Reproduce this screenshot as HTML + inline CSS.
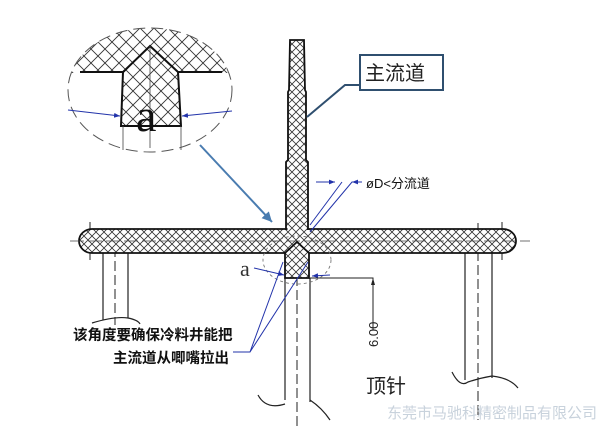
<!DOCTYPE html>
<html><head><meta charset="utf-8"><style>
body{margin:0;background:#fff;}
svg{display:block;}
text{font-family:"Liberation Sans","Noto Sans CJK SC",sans-serif;}
text.serif{font-family:"Liberation Serif",serif;}
</style></head><body>
<svg width="600" height="428" viewBox="0 0 600 428" xmlns="http://www.w3.org/2000/svg">
<defs>
<pattern id="h" width="8" height="8" patternUnits="userSpaceOnUse">
<rect width="8" height="8" fill="#fff"/>
<path d="M0 0L8 8M8 0L0 8" stroke="#333" stroke-width="0.8"/>
</pattern>
<pattern id="h2" width="14" height="14" patternUnits="userSpaceOnUse">
<rect width="14" height="14" fill="#fff"/>
<path d="M0 0L14 14M14 0L0 14" stroke="#333" stroke-width="0.9"/>
</pattern>
<marker id="ar" viewBox="0 0 10 10" refX="10" refY="5" markerWidth="6" markerHeight="6" orient="auto"><path d="M0 1L10 5L0 9z" fill="#2233aa"/></marker>
<marker id="ab" viewBox="0 0 10 10" refX="10" refY="5" markerWidth="5" markerHeight="5" orient="auto"><path d="M0 0L10 5L0 10z" fill="#4a7cb0"/></marker>
</defs>

<g>
<clipPath id="ec"><ellipse cx="150" cy="90" rx="82" ry="62"/></clipPath>
<rect x="60" y="25" width="180" height="48" fill="url(#h2)" clip-path="url(#ec)"/>
<path d="M123 72L150 46L178 72L181 126L121 126Z" fill="url(#h2)" stroke="#111" stroke-width="2"/>
<path d="M80 72L123 72M178 72L222 72" stroke="#111" stroke-width="2"/>
<ellipse cx="150" cy="90" rx="82" ry="62" fill="none" stroke="#555" stroke-width="1" stroke-dasharray="12 6"/>
<path d="M150 46V148M123 126V150M181 126V150" stroke="#444" stroke-width="0.8"/>
<text class="serif" x="136" y="131" font-size="46" fill="#111">a</text>
<path d="M68 110L120 116" stroke="#2233aa" stroke-width="1" marker-end="url(#ar)"/>
<path d="M232 111L182 116" stroke="#2233aa" stroke-width="1" marker-end="url(#ar)"/>
<path d="M200 145L272 222" stroke="#4a7cb0" stroke-width="2" marker-end="url(#ab)"/>
</g>

<g stroke="#222" stroke-width="1.2" fill="none">
<path d="M103 253V320M128 253V318"/>
<path d="M465 253V380M492 253V378"/>
<path d="M285 278V400M310 278V402"/>
<path d="M92 323Q115 316 128 318Q138 320 140 324"/>
<path d="M452 372Q460 388 468 382Q480 378 492 376Q510 378 518 388"/>
<path d="M258 395Q266 410 285 404M310 400Q322 408 330 420"/>
</g>
<g stroke="#222" stroke-width="1" stroke-dasharray="10 4" fill="none">
<path d="M115 233V325M478 223V420M297 262V428M90 222V262M502 222V262"/>
</g>

<path d="M92 229H503A13 12 0 0 1 503 253H92A13 12 0 0 1 92 229Z" fill="url(#h)" stroke="#111" stroke-width="1.8"/>
<path d="M70 241H530" stroke="#444" stroke-width="0.8" stroke-dasharray="14 4"/>
<path d="M290 40H304L305 90L306 92V160L308 162V229H286V162L288 160V92L289 90Z" fill="url(#h)" stroke="#111" stroke-width="1.8"/>
<rect x="287.5" y="227" width="19.5" height="5" fill="url(#h)"/>
<path d="M285 253L297 242L309 253V278H285Z" fill="url(#h)" stroke="#111" stroke-width="1.8"/>
<ellipse cx="297" cy="260" rx="34" ry="24" fill="none" stroke="#666" stroke-width="0.8" stroke-dasharray="3 3"/>

<rect x="360" y="55" width="83" height="35" fill="#fff" stroke="#2f4f6f" stroke-width="2"/>
<text x="365" y="80" font-size="20" fill="#222">主流道</text>
<path d="M360 85H345L307 117" stroke="#2f4f6f" stroke-width="2" fill="none"/>

<g stroke="#2233aa" stroke-width="1" fill="none">
<path d="M316 182H335" marker-end="url(#ar)"/>
<path d="M342 182L310 225"/>
<path d="M362 182H352L310 232"/>
<path d="M362 182H352" marker-end="url(#ar)"/>
</g>
<text x="366" y="188" font-size="13" fill="#111">øD&lt;分流道</text>

<text class="serif" x="240" y="276" font-size="22" fill="#333">a</text>
<path d="M254 268L284 275" stroke="#2233aa" stroke-width="1" marker-end="url(#ar)"/>
<path d="M330 275L312 276" stroke="#2233aa" stroke-width="1" marker-end="url(#ar)"/>
<g stroke="#2233aa" stroke-width="1" fill="none">
<path d="M233 352H250L283 262M250 352L308 262"/>
</g>

<path d="M310 278H373V330" stroke="#222" stroke-width="1" fill="none"/>
<path d="M373 278L371 285H375Z" fill="#222"/>
<text transform="translate(378 347) rotate(-90)" font-size="13" fill="#222">6.00</text>

<text x="73" y="340" font-size="14.5" font-weight="bold" fill="#111">该角度要确保冷料井能把</text>
<text x="113" y="363" font-size="14.5" font-weight="bold" fill="#111">主流道从唧嘴拉出</text>
<text x="366" y="393" font-size="20" fill="#222">顶针</text>
<text x="387" y="418" font-size="15" fill="#c8d2dc">东莞市马驰科精密制品有限公司</text>
</svg>
</body></html>
